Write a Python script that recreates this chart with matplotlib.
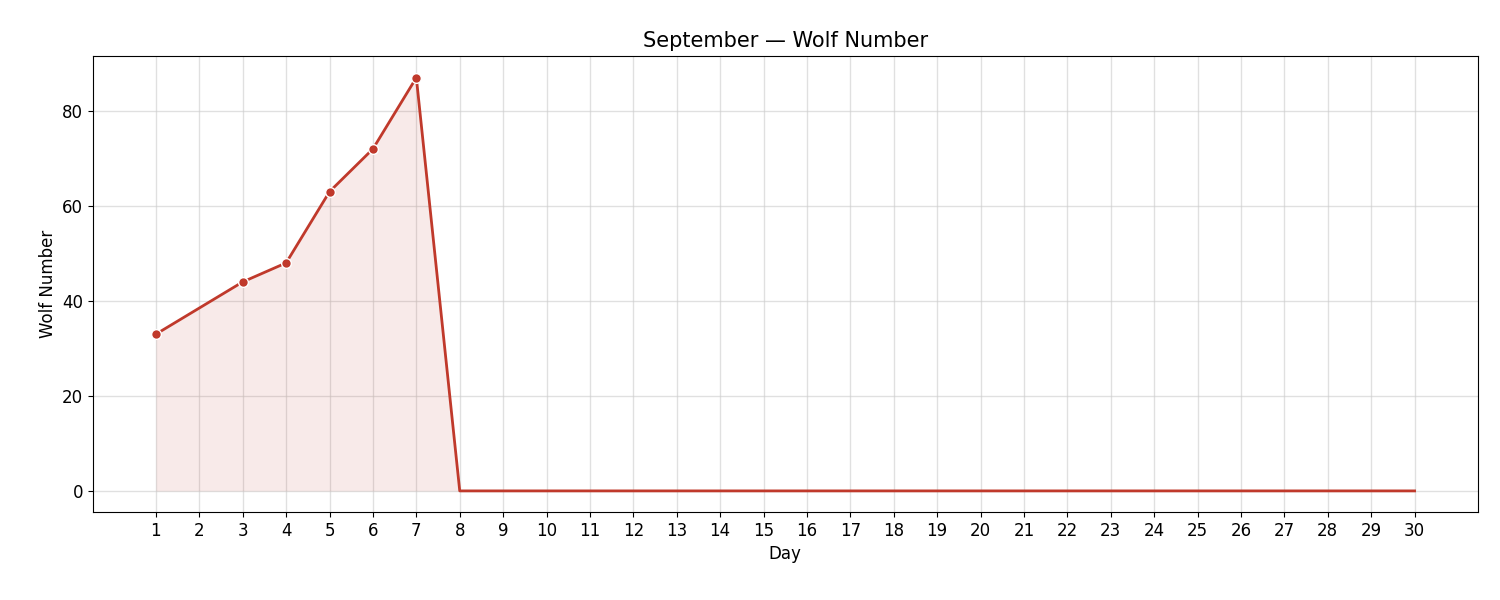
import matplotlib
matplotlib.use("Agg")
import matplotlib.pyplot as plt

days = [1, 3, 4, 5, 6, 7] + list(range(8, 31))
values = [33, 44, 48, 63, 72, 87] + [0] * 23
marked_days = [1, 3, 4, 5, 6, 7]
marked_values = [33, 44, 48, 63, 72, 87]
ticks = list(range(1, 31))
color = "#c0392b"

fig = plt.figure(figsize=(15, 6), dpi=100)
ax = fig.add_axes([0.062, 0.147, 0.923, 0.76])
fill_x = [d for d in days if d <= 8]
fill_y = values[:len(fill_x)]
ax.fill_between(fill_x, fill_y, 0, color=color, alpha=0.1, linewidth=0)
ax.plot(days, values, color=color, linewidth=2)
ax.plot(marked_days, marked_values, 'o', color=color, markersize=7,
        markeredgecolor='white', markeredgewidth=1)
ax.set_xticks(ticks)
ax.set_xlim(-0.45, 31.45)
ax.set_ylim(-4.4, 91.6)
ax.set_yticks([0, 20, 40, 60, 80])
ax.grid(True, color='#cccccc', alpha=0.6, linewidth=1)
ax.set_axisbelow(True)
ax.tick_params(labelsize=12)
ax.set_xlabel("Day", fontsize=12)
ax.set_ylabel("Wolf Number", fontsize=12)
ax.set_title("September — Wolf Number", fontsize=15)
fig.savefig("out.png")
